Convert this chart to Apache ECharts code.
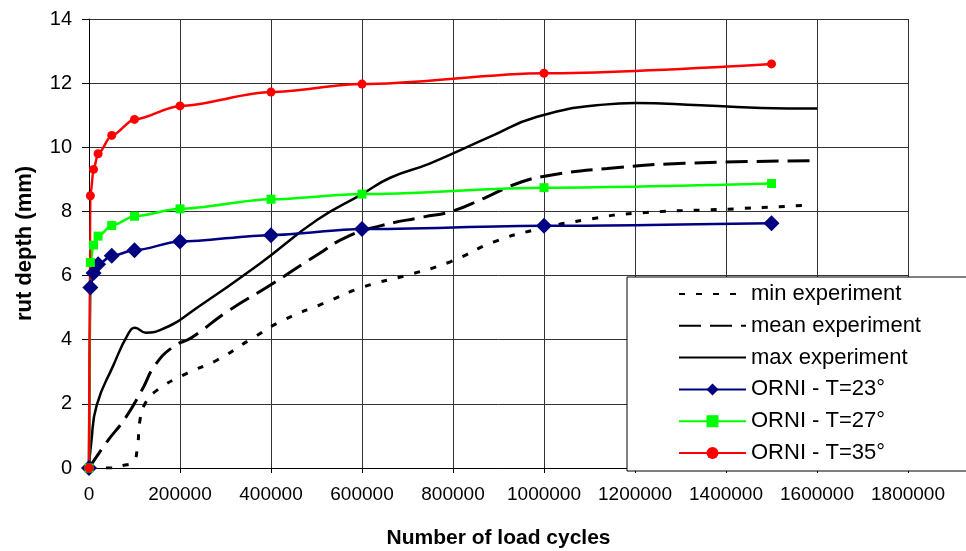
<!DOCTYPE html>
<html>
<head>
<meta charset="utf-8">
<script src="https://cdn.jsdelivr.net/npm/echarts@6/dist/echarts.min.js"></script>
<style>
  html, body { margin: 0; padding: 0; background: #fff; }
  #chart { width: 966px; height: 551px; }
</style>
</head>
<body>
<div id="chart"></div>
<script>
// Rut depth (mm) versus number of load cycles

// Model runs (ORNI) at three temperatures share the same cycle counts
const orniCycles = [0, 3000, 10000, 20000, 50000, 100000, 200000, 400000, 600000, 1000000, 1500000];
const orniT23 = [0, 5.63, 6.08, 6.35, 6.62, 6.79, 7.06, 7.26, 7.45, 7.55, 7.63];
const orniT27 = [0, 6.41, 6.95, 7.23, 7.56, 7.85, 8.08, 8.38, 8.54, 8.74, 8.87];
const orniT35 = [0, 8.49, 9.31, 9.80, 10.37, 10.87, 11.29, 11.72, 11.97, 12.31, 12.60];

// Experimental envelope: minimum, mean and maximum measured rut depth
const minCycles = [0, 46000, 75000, 97000, 106000, 112000, 123000, 149000, 215000, 281000, 354000, 427000, 515000, 604000, 699000, 794000, 890000, 978000, 1088000, 1198000, 1418000, 1590000];
const minDepth = [0, 0, 0.08, 0.19, 0.6, 1.49, 2.0, 2.42, 2.95, 3.36, 4.0, 4.61, 5.13, 5.65, 6.01, 6.43, 7.05, 7.42, 7.73, 7.94, 8.08, 8.20];

const meanCycles = [0, 39000, 79000, 116000, 145000, 185000, 226000, 303000, 398000, 501000, 567000, 640000, 736000, 794000, 868000, 941000, 1014000, 1139000, 1308000, 1590000];
const meanDepth = [0, 0.81, 1.54, 2.42, 3.20, 3.78, 4.07, 4.87, 5.70, 6.64, 7.21, 7.55, 7.83, 7.99, 8.41, 8.87, 9.13, 9.34, 9.50, 9.58];

const maxCycles = [0, 5000, 17000, 53500, 86500, 101000, 125000, 156000, 251000, 376000, 501000, 600000, 662000, 750000, 882000, 985000, 1131000, 1200000, 1344000, 1535000, 1600000];
const maxDepth = [0, 0.8, 1.96, 3.2, 4.19, 4.37, 4.22, 4.30, 5.13, 6.38, 7.73, 8.54, 9.05, 9.50, 10.33, 10.95, 11.33, 11.38, 11.31, 11.21, 11.21];

const seriesNames = ['min experiment', 'mean experiment', 'max experiment', 'ORNI - T=23°', 'ORNI - T=27°', 'ORNI - T=35°'];

const xTicks = { min: 0, max: 1800000, step: 200000 };
const yTicks = { min: 0, max: 14, step: 2 };

function pairs(xs, ys) {
  return xs.map((x, i) => [x, ys[i]]);
}

const FONT = '"Liberation Sans", Arial, sans-serif';

const chart = echarts.init(document.getElementById('chart'), null, { renderer: 'canvas' });

function experiment(name, xs, ys, dash, width) {
  return {
    name: name,
    type: 'line',
    data: pairs(xs, ys),
    symbol: 'none',
    smooth: 0.5,
    lineStyle: { color: '#000', width: width, type: dash, cap: 'butt' },
    itemStyle: { color: '#000' },
    z: 2
  };
}

function model(name, ys, color, symbol, size) {
  return {
    name: name,
    type: 'line',
    data: pairs(orniCycles, ys),
    symbol: symbol,
    symbolSize: size,
    showAllSymbol: true,
    smooth: 0.3,
    smoothMonotone: 'x',
    lineStyle: { color: color, width: 2.5 },
    itemStyle: { color: color, borderWidth: 0 },
    z: 3
  };
}

// Experiment entries show only their line pattern in the legend
const hiddenMark = { color: 'rgba(0,0,0,0)', borderWidth: 0, opacity: 0 };
const legendData = seriesNames.map((n, i) => (i < 3 ? { name: n, itemStyle: hiddenMark } : { name: n }));

chart.setOption({
  animation: false,
  backgroundColor: '#fff',
  grid: { left: 89, right: 58, top: 19, bottom: 83, show: false, containLabel: false, outerBoundsMode: 'none' },
  xAxis: {
    type: 'value',
    min: xTicks.min,
    max: xTicks.max,
    interval: xTicks.step,
    name: 'Number of load cycles',
    nameLocation: 'middle',
    nameGap: 60,
    nameTextStyle: { fontFamily: FONT, fontSize: 21, fontWeight: 'bold', color: '#000' },
    axisLine: { show: true, onZero: false, lineStyle: { color: '#000', width: 1 } },
    axisTick: { show: true, length: 5, lineStyle: { color: '#000' } },
    axisLabel: {
      margin: 17,
      fontFamily: FONT,
      fontSize: 19,
      color: '#000',
      formatter: v => String(v)
    },
    splitLine: { show: true, lineStyle: { color: '#333', width: 1 } }
  },
  yAxis: {
    type: 'value',
    min: yTicks.min,
    max: yTicks.max,
    interval: yTicks.step,
    name: 'rut depth (mm)',
    nameLocation: 'middle',
    nameGap: 53,
    nameTextStyle: { fontFamily: FONT, fontSize: 22, fontWeight: 'bold', color: '#000' },
    axisLine: { show: true, lineStyle: { color: '#000', width: 1 } },
    axisTick: { show: true, length: 7, lineStyle: { color: '#000' } },
    axisLabel: { margin: 17, fontFamily: FONT, fontSize: 20, color: '#000' },
    splitLine: { show: true, lineStyle: { color: '#333', width: 1 } }
  },
  legend: {
    data: legendData,
    orient: 'vertical',
    left: 627,
    top: 277,
    padding: [6, 80, 7, 51],
    itemWidth: 67,
    itemHeight: 15,
    itemGap: 9.8,
    backgroundColor: '#fff',
    borderColor: '#000',
    borderWidth: 1,
    borderRadius: 0,
    textStyle: { fontFamily: FONT, fontSize: 22, color: '#000', lineHeight: 22 },
    z: 5
  },
  series: [
    experiment(seriesNames[0], minCycles, minDepth, [6, 11], 3),
    experiment(seriesNames[1], meanCycles, meanDepth, [22, 9], 3),
    experiment(seriesNames[2], maxCycles, maxDepth, 'solid', 2.5),
    model(seriesNames[3], orniT23, '#000080', 'diamond', 16),
    model(seriesNames[4], orniT27, '#00ff00', 'rect', 9),
    model(seriesNames[5], orniT35, '#ff0000', 'circle', 9)
  ]
});
</script>
</body>
</html>
